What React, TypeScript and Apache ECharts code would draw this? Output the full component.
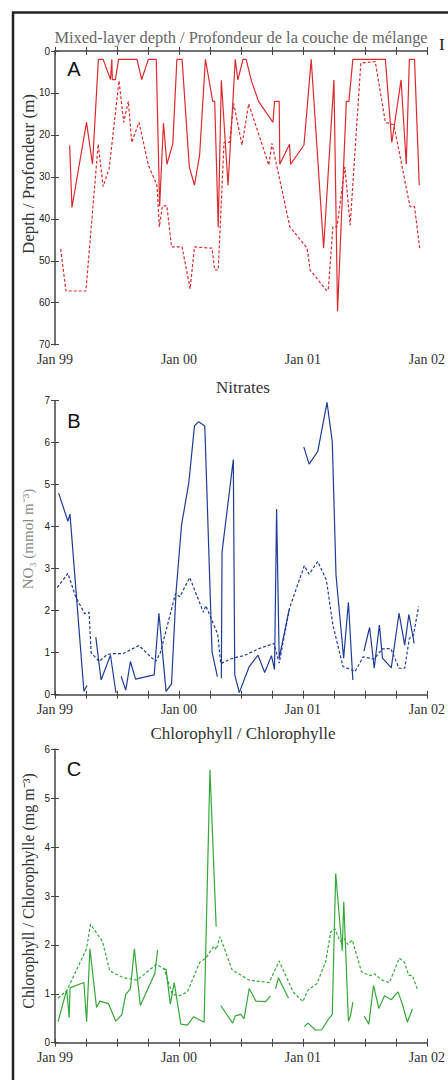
import React, { useEffect, useRef } from "react";
import * as echarts from "echarts";

// x values are months since Jan 1999
const xTickLabels = ["Jan 99", "Jan 00", "Jan 01", "Jan 02"];
const panelTitles = [
  "Mixed-layer depth / Profondeur de la couche de mélange",
  "Nitrates",
  "Chlorophyll / Chlorophylle",
];
const yNames = ["Depth / Profondeur (m)", "NO₃ (mmol m⁻³)", "Chlorophyll / Chlorophylle (mg m⁻³)"];
const panelLetters = ["A", "B", "C"];

const G = "-";

const mldObserved: any[] = [
  [1.42, 22.5], [1.64, 37.3], [3.05, 17], [3.63, 27], [4.2, 2], [4.66, 2], [5.37, 6.8], [5.5, 2], [5.55, 6.8],
  [5.85, 6.8], [6.15, 2], [7.94, 2], [8.39, 6.8], [9.04, 2], [9.8, 2], [10.13, 37], [10.5, 17.2], [10.83, 27],
  [11.4, 22.2], [11.8, 2], [12.3, 2], [13.0, 27.6], [13.5, 32], [14.0, 24.8], [14.56, 2], [15.27, 12],
  [15.46, 12], [15.8, 42], [16.1, 7], [16.75, 32], [17.45, 2], [17.7, 6.9], [18.2, 2], [18.5, 2], [19.0, 7],
  [19.7, 12], [21.1, 17], [21.25, 12], [21.7, 12], [21.76, 27], [22.7, 22.2], [22.8, 27], [24.1, 22.4],
  [24.8, 2], [26.0, 47], [27.0, 6.9], [27.35, 62], [28.2, 12], [28.45, 12], [28.83, 2], [31.98, 2],
  [32.6, 21.8], [33.5, 6.9], [34.0, 27], [34.3, 2], [34.8, 2], [35.26, 32],
];
const mldClimatology: any[] = [
  [0.55, 47.2], [1.06, 57.2], [2.99, 57.2], [4.18, 22.2], [4.66, 32.3], [5.24, 28], [6.2, 7.1], [6.65, 17],
  [7.1, 12], [7.43, 21.8], [8.13, 17], [9.04, 27.2], [9.87, 32], [10.1, 41.9], [10.4, 36.9], [10.83, 36.9],
  [11.28, 46.7], [12.3, 46.7], [13.08, 56.7], [13.5, 46.7], [15.2, 47], [15.46, 52.2], [15.8, 52.2],
  [16.36, 21.8], [16.9, 21.8], [17.3, 12.5], [18.1, 22.4], [18.75, 12.6], [20.7, 27.2], [21.0, 22],
  [21.45, 27.2], [22.73, 41.9], [23.4, 43.9], [24.4, 47], [24.7, 52.2], [26.25, 57], [26.45, 57],
  [26.9, 41.9], [27.3, 41.9], [28.06, 27.6], [28.57, 41.5], [29.6, 2.9], [31.0, 2.5], [31.98, 17],
  [32.8, 17.6], [34.36, 37.1], [34.8, 37.1], [35.3, 47],
];
const no3Observed: any[] = [
  [0.35, 4.8], [1.25, 4.13], [1.45, 4.3], [2.8, 0.08], [3.1, 0.22], [3.5, G],
  [3.95, 1.37], [4.46, 0.35], [5.37, 0.94], [5.9, 0.04], [6.1, G],
  [6.4, 0.44], [6.85, 0.11], [7.3, 0.79], [7.8, 0.37], [9.6, 0.47], [10.06, 1.94], [10.75, 0.08],
  [11.28, 0.26], [11.72, 2.45], [12.25, 4.04], [12.96, 5.06], [13.5, 6.4], [13.9, 6.5], [14.5, 6.4],
  [15.2, 1.02], [15.72, 0.43], [15.9, G],
  [16.1, 0.39], [16.17, 3.4], [17.26, 5.6], [17.4, 0.47], [17.84, 0.05], [18.8, 0.67], [19.65, 0.94],
  [20.3, 0.53], [20.95, 0.93], [21.25, 0.6], [21.45, 4.42], [21.7, 0.87], [22.66, 2.02], [23.5, G],
  [24.08, 5.9], [24.6, 5.49], [25.43, 5.79], [26.33, 6.96], [26.84, 6.02], [27.2, 2.85], [27.94, 0.87],
  [28.4, 2.2], [28.83, 0.35], [29.4, G],
  [29.9, 1.04], [30.45, 1.6], [30.9, 0.63], [31.4, 1.66], [31.7, 0.87], [32.55, 0.64], [33.3, 1.94],
  [33.85, 1.18], [34.25, 1.91], [34.77, 1.22],
];
const no3Climatology: any[] = [
  [0.22, 2.55], [1.25, 2.89], [2.0, 2.33], [2.87, 1.93], [3.3, 1.96], [3.5, 1.0], [4.27, 0.79], [5.0, 0.95],
  [5.62, 0.98], [6.6, 0.98], [8.13, 1.17], [9.74, 0.79], [10.2, 1.0], [11.67, 2.41], [12.08, 2.33],
  [13.04, 2.79], [14.37, 1.96], [14.6, 2.12], [15.75, 1.44], [16.04, 0.74], [17.0, 0.85], [17.7, 0.9],
  [18.3, 0.93], [19.77, 1.1], [21.2, 1.22], [21.7, 0.75], [22.7, 2.06], [24.13, 3.07], [24.6, 2.87],
  [25.43, 3.17], [26.27, 2.73], [26.9, 1.66], [27.87, 0.67], [28.4, 0.62], [29.04, 0.55], [29.83, 0.9],
  [30.9, 0.85], [31.66, 1.09], [32.5, 1.1], [33.3, 0.63], [33.85, 0.63], [34.3, 1.34], [34.7, 1.42],
  [35.2, 2.1],
];
const chlObserved: any[] = [
  [0.29, 0.43], [1.13, 1.08], [1.38, 0.51], [1.45, 1.12], [2.8, 1.23], [3.06, 0.43], [3.38, 1.92],
  [4.02, 0.72], [4.34, 0.85], [5.17, 0.8], [5.88, 0.44], [6.46, 0.57], [6.85, 0.99], [7.3, 1.1],
  [7.68, 1.92], [8.26, 0.76], [9.67, 1.42], [9.93, 1.9], [10.2, G],
  [10.5, 1.5], [10.75, 1.5], [11.16, 0.79], [11.54, 1.23], [12.18, 0.38], [12.82, 0.36], [13.4, 0.53],
  [14.43, 0.42], [15.0, 5.58], [15.6, 2.37], [15.8, G],
  [16.04, 0.76], [17.2, 0.4], [17.45, 0.55], [17.97, 0.58], [18.3, 0.49], [18.8, 1.11], [19.45, 0.85],
  [20.4, 0.84], [20.86, 0.96], [21.1, G],
  [21.35, 1.1], [21.63, 1.33], [22.6, 0.91], [23.3, G],
  [24.14, 0.33], [24.5, 0.4], [25.2, 0.26], [25.8, 0.26], [26.4, 0.46], [26.84, 0.58], [27.17, 3.46],
  [27.8, 1.88], [27.95, 2.88], [28.4, 0.44], [28.6, 0.55], [28.83, 0.83], [29.4, G],
  [29.93, 0.54], [30.38, 0.38], [30.83, 1.17], [31.34, 0.7], [31.9, 0.96], [32.55, 0.88], [33.2, 1.04],
  [33.65, 0.77], [34.1, 0.42], [34.6, 0.69],
];
const chlClimatology: any[] = [
  [0.29, 0.91], [1.13, 1.06], [3.05, 1.92], [3.44, 2.42], [4.6, 2.07], [5.3, 1.47], [6.59, 1.33],
  [7.94, 1.28], [9.8, 1.6], [10.58, 1.51], [11.35, 0.99], [12.05, 0.96], [12.82, 1.04], [14.0, 1.64],
  [14.63, 1.74], [15.4, 1.98], [15.6, 1.9], [15.98, 2.17], [17.14, 1.49], [18.8, 1.28], [20.73, 1.23],
  [21.7, 1.67], [23.05, 1.04], [24.0, 0.84], [24.46, 1.07], [25.36, 1.21], [26.2, 1.66], [26.7, 2.27],
  [27.1, 2.33], [27.6, 2.07], [28.0, 2.13], [28.33, 2.01], [28.77, 2.1], [29.67, 1.45], [30.5, 1.37],
  [30.9, 1.41], [31.66, 1.28], [32.37, 1.23], [33.33, 1.73], [33.84, 1.64], [34.23, 1.38], [34.6, 1.37],
  [35.06, 1.1],
];

const yRanges = [
  { min: 0, max: 70, interval: 10, inverse: true },
  { min: 0, max: 7, interval: 1, inverse: false },
  { min: 0, max: 6, interval: 1, inverse: false },
];
const colors = ["#dd2a2e", "#1f3c96", "#35a838"];

const App: React.FC = () => {
  const ref = useRef<HTMLDivElement>(null);
  useEffect(() => {
    if (!ref.current) return;
    const chart = echarts.init(ref.current, null, { renderer: "svg" });
    const grids = [
      { left: 55, right: 19.7, top: 51, height: 293.7 },
      { left: 55, right: 19.7, top: 400.7, height: 294 },
      { left: 55, right: 19.7, top: 749.3, height: 293.4 },
    ];
    const axisLine = { show: true, lineStyle: { color: "#6a6a6a", width: 1.5 } };
    const tick = { show: true, inside: true, length: 4, lineStyle: { color: "#444", width: 1 } };
    const xAxis: any[] = [];
    const yAxis: any[] = [];
    grids.forEach((_, i) => {
      const base = { type: "value", gridIndex: i, min: 0, max: 36, interval: 3, splitLine: { show: false }, axisLine, axisTick: tick };
      xAxis.push({
        ...base,
        position: "bottom",
        axisLabel: {
          show: true,
          margin: 8,
          fontFamily: "Liberation Serif",
          fontSize: 14,
          color: "#333",
          showMinLabel: true,
          showMaxLabel: true,
          formatter: (v: number) => (v % 12 === 0 ? xTickLabels[v / 12] : ""),
        },
      });
      xAxis.push({ ...base, position: "top", axisLabel: { show: false } });
      const yb = { type: "value", gridIndex: i, ...yRanges[i], splitLine: { show: false }, axisLine, axisTick: tick };
      yAxis.push({
        ...yb,
        position: "left",
        axisLabel: { show: true, margin: 5, fontFamily: "Liberation Sans", fontSize: 10, color: "#222" },
      });
      yAxis.push({ ...yb, position: "right", axisLabel: { show: false } });
    });
    const datasets = [
      [mldObserved, mldClimatology],
      [no3Observed, no3Climatology],
      [chlObserved, chlClimatology],
    ];
    const series: any[] = [];
    datasets.forEach((pair, i) => {
      pair.forEach((d, j) => {
        series.push({
          type: "line",
          xAxisIndex: i * 2,
          yAxisIndex: i * 2,
          data: d,
          showSymbol: false,
          symbol: "none",
          connectNulls: false,
          lineStyle: { color: colors[i], width: 1.2, type: j === 0 ? "solid" : [3, 2] },
        });
      });
    });
    const serif = "Liberation Serif";
    const txt = (text: string, x: number, y: number, size: number, color: string, family: string, rot = 0, align = "center") => ({
      type: "text",
      x,
      y,
      rotation: rot,
      style: {
        text,
        fontSize: size,
        fontFamily: family,
        fill: color,
        align,
        textAlign: align,
        verticalAlign: "middle",
        textVerticalAlign: "middle",
      },
    });
    const graphic: any[] = [
      { type: "line", shape: { x1: 12, y1: 12.5, x2: 448, y2: 12.5 }, style: { stroke: "#222", lineWidth: 2.5 } },
      { type: "line", shape: { x1: 13, y1: 12, x2: 13, y2: 1080 }, style: { stroke: "#222", lineWidth: 2.5 } },
      txt("I", 439, 44, 17, "#222", serif, 0, "left"),
      txt(panelTitles[0], 241, 37, 16.4, "#666", serif),
      txt(panelTitles[1], 243, 387, 17, "#333", serif),
      txt(panelTitles[2], 243, 733, 17, "#333", serif),
      txt(yNames[0], 28, 174, 17, "#333", serif, Math.PI / 2),
      txt(yNames[1], 28, 539, 15, "#888", serif, Math.PI / 2),
      txt(yNames[2], 28, 891, 16, "#333", serif, Math.PI / 2),
      txt(panelLetters[0], 74, 69, 20, "#111", "Liberation Sans"),
      txt(panelLetters[1], 74, 421, 20, "#111", "Liberation Sans"),
      txt(panelLetters[2], 74, 769, 20, "#111", "Liberation Sans"),
    ];
    chart.setOption({
      animation: false,
      backgroundColor: "#fff",
      grid: grids,
      xAxis,
      yAxis,
      series,
      graphic,
    });
    return () => chart.dispose();
  }, []);
  return <div ref={ref} style={{ position: "absolute", left: 0, top: 0, width: 448, height: 1080 }} />;
};

export default App;
